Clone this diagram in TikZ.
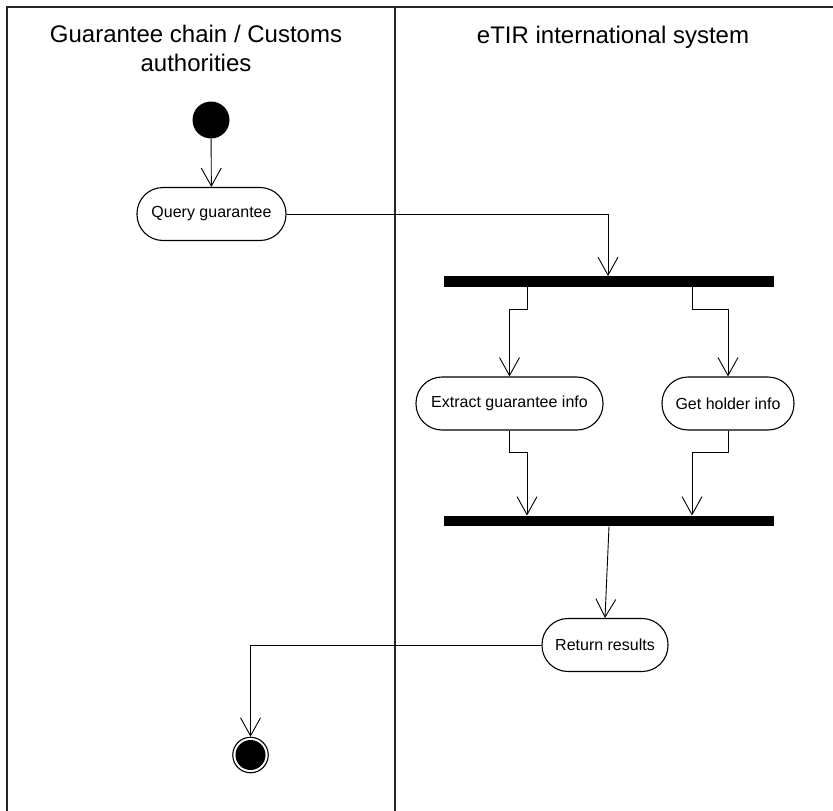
\documentclass[tikz,border=0pt]{standalone}
\usepackage{fontspec}
\setmainfont{Liberation Sans}
\usetikzlibrary{arrows.meta,positioning}
\tikzset{
  lane/.style={line width=1.5pt, draw=black!85},
  header/.style={font=\fontsize{24}{29}\selectfont, align=center, anchor=base, inner sep=0pt},
  action/.style={draw, line width=1.1pt, rectangle, rounded corners=26pt, minimum height=53pt,
    inner sep=0pt, font=\fontsize{16}{19}\selectfont},
  bar/.style={fill=black, rectangle, inner sep=0pt, minimum width=330pt, minimum height=10.5pt},
  flow/.style={line width=0.9pt, -{Straight Barb[length=18pt, width=20pt, line width=0.9pt]}},
  startnode/.style={circle, fill=black, minimum size=37pt, inner sep=0pt},
}
\begin{document}
\begin{tikzpicture}[x=1pt, y=-1pt]
\useasboundingbox (0,0) rectangle (833,811);
% swimlanes
\draw[lane] (7,811) -- (7,7) -- (833,7);
\draw[lane] (395,7) -- (395,811);
\node[header] (h1) at (196,71.5) {Guarantee chain / Customs\\authorities};
\node[header] (h2) at (613,43) {eTIR international system};
% nodes
\node[startnode] (start) at (211,120) {};
\node[action, minimum width=149pt] (query) at (211.5,214) {Query guarantee};
\node[bar] (fork) at (609,281.5) {};
\node[action, minimum width=187pt] (extract) at (509.5,403.5) {Extract guarantee info};
\node[action, minimum width=132pt] (holder) at (728,403.5) {Get holder info};
\node[bar] (join) at (609,521) {};
\node[action, minimum width=126pt] (ret) at (605,645) {Return results};
\node[circle, draw, line width=1.1pt, minimum size=35.5pt, inner sep=0pt] (end) at (250.5,755) {};
\fill (end.center) circle (15pt);
% connectors
\draw[flow] (start) -- (query);
\draw[flow] (query.east) -| ([xshift=-1pt]fork.north);
\draw[flow] ([xshift=-82pt]fork.south) -- ++(0,22) -| (extract.north);
\draw[flow] ([xshift=83pt]fork.south) -- ++(0,22) -| (holder.north);
\draw[flow] (extract.south) -- ++(0,22) -| ([xshift=-82pt]join.north);
\draw[flow] (holder.south) -- ++(0,22) -| ([xshift=83pt]join.north);
\draw[flow] (join.south) -- (ret.north);
\draw[flow] (ret.west) -| (end.north);
\end{tikzpicture}
\end{document}
